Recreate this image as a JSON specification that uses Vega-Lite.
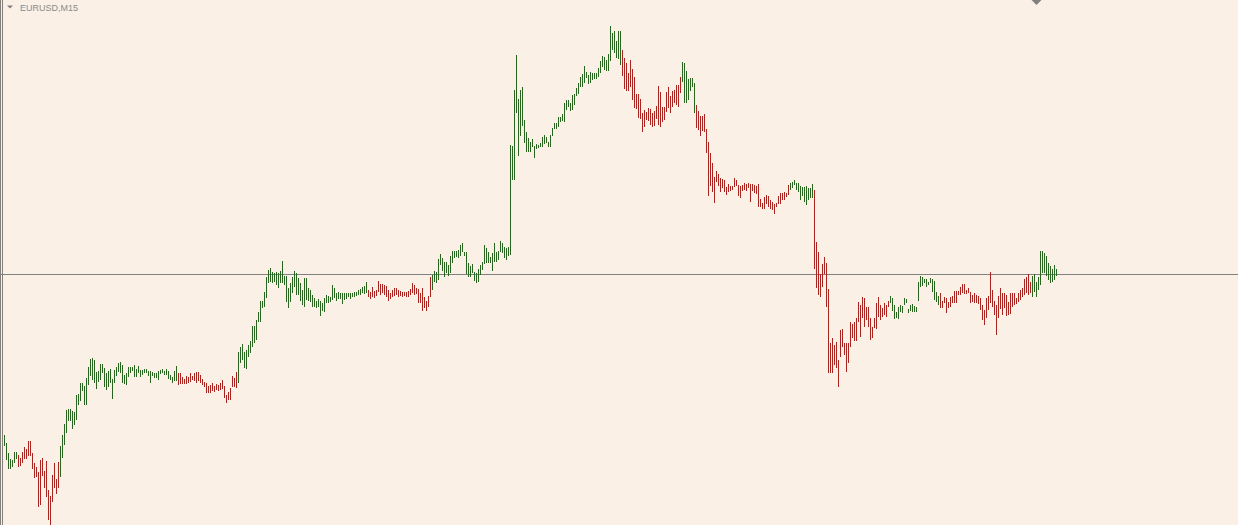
{
"$schema": "https://vega.github.io/schema/vega-lite/v6.json",
"width": 1238, "height": 525,
"autosize": {"type": "none"},
"padding": 0,
"background": "#faf0e6",
"config": {"view": {"stroke": null}},
"datasets": {
"bars": [
{"bar":0,"high":90,"low":79,"dir":"up"},{"bar":1,"high":82,"low":65,"dir":"up"},{"bar":2,"high":72,"low":56,"dir":"up"},{"bar":3,"high":66,"low":56,"dir":"up"},{"bar":4,"high":65,"low":58,"dir":"up"},{"bar":5,"high":73,"low":62,"dir":"up"},{"bar":6,"high":73,"low":66,"dir":"up"},
{"bar":7,"high":70,"low":58,"dir":"down"},{"bar":8,"high":67,"low":59,"dir":"down"},{"bar":9,"high":73,"low":62,"dir":"down"},{"bar":10,"high":78,"low":66,"dir":"down"},{"bar":11,"high":76,"low":66,"dir":"down"},{"bar":12,"high":84,"low":69,"dir":"down"},{"bar":13,"high":84,"low":69,"dir":"down"},{"bar":14,"high":72,"low":56,"dir":"down"},{"bar":15,"high":62,"low":47,"dir":"down"},{"bar":16,"high":58,"low":48,"dir":"down"},{"bar":17,"high":53,"low":18,"dir":"down"},{"bar":18,"high":65,"low":20,"dir":"down"},{"bar":19,"high":67,"low":49,"dir":"down"},{"bar":20,"high":54,"low":37,"dir":"down"},{"bar":21,"high":64,"low":28,"dir":"down"},{"bar":22,"high":35,"low":5,"dir":"down"},{"bar":23,"high":29,"low":0,"dir":"down"},{"bar":24,"high":50,"low":23,"dir":"down"},{"bar":25,"high":62,"low":37,"dir":"down"},{"bar":26,"high":46,"low":31,"dir":"down"},{"bar":27,"high":63,"low":37,"dir":"down"},
{"bar":28,"high":79,"low":48,"dir":"up"},{"bar":29,"high":90,"low":67,"dir":"up"},{"bar":30,"high":101,"low":80,"dir":"up"},{"bar":31,"high":115,"low":92,"dir":"up"},{"bar":32,"high":116,"low":104,"dir":"up"},{"bar":33,"high":116,"low":104,"dir":"up"},{"bar":34,"high":114,"low":96,"dir":"up"},{"bar":35,"high":113,"low":100,"dir":"up"},{"bar":36,"high":130,"low":105,"dir":"up"},{"bar":37,"high":131,"low":120,"dir":"up"},{"bar":38,"high":142,"low":124,"dir":"up"},{"bar":39,"high":142,"low":134,"dir":"up"},{"bar":40,"high":139,"low":120,"dir":"up"},{"bar":41,"high":147,"low":120,"dir":"up"},{"bar":42,"high":158,"low":140,"dir":"up"},{"bar":43,"high":166,"low":149,"dir":"up"},{"bar":44,"high":167,"low":145,"dir":"up"},{"bar":45,"high":165,"low":142,"dir":"up"},{"bar":46,"high":153,"low":136,"dir":"up"},{"bar":47,"high":154,"low":143,"dir":"up"},{"bar":48,"high":161,"low":145,"dir":"up"},{"bar":49,"high":161,"low":152,"dir":"up"},{"bar":50,"high":157,"low":138,"dir":"up"},{"bar":51,"high":152,"low":135,"dir":"up"},{"bar":52,"high":154,"low":138,"dir":"up"},{"bar":53,"high":156,"low":142,"dir":"up"},{"bar":54,"high":146,"low":126,"dir":"up"},{"bar":55,"high":155,"low":142,"dir":"up"},{"bar":56,"high":158,"low":149,"dir":"up"},{"bar":57,"high":162,"low":153,"dir":"up"},{"bar":58,"high":163,"low":152,"dir":"up"},{"bar":59,"high":160,"low":142,"dir":"up"},{"bar":60,"high":150,"low":141,"dir":"up"},{"bar":61,"high":152,"low":140,"dir":"up"},{"bar":62,"high":158,"low":148,"dir":"up"},{"bar":63,"high":158,"low":152,"dir":"up"},{"bar":64,"high":158,"low":154,"dir":"up"},{"bar":65,"high":160,"low":148,"dir":"up"},{"bar":66,"high":156,"low":148,"dir":"up"},{"bar":67,"high":159,"low":152,"dir":"up"},{"bar":68,"high":155,"low":148,"dir":"up"},{"bar":69,"high":155,"low":150,"dir":"up"},{"bar":70,"high":156,"low":152,"dir":"up"},{"bar":71,"high":156,"low":152,"dir":"up"},{"bar":72,"high":154,"low":149,"dir":"up"},{"bar":73,"high":154,"low":142,"dir":"up"},{"bar":74,"high":153,"low":149,"dir":"up"},{"bar":75,"high":152,"low":147,"dir":"up"},{"bar":76,"high":152,"low":147,"dir":"up"},{"bar":77,"high":154,"low":145,"dir":"up"},{"bar":78,"high":155,"low":151,"dir":"up"},{"bar":79,"high":156,"low":152,"dir":"up"},{"bar":80,"high":154,"low":150,"dir":"up"},{"bar":81,"high":156,"low":150,"dir":"up"},{"bar":82,"high":154,"low":146,"dir":"up"},{"bar":83,"high":150,"low":145,"dir":"up"},{"bar":84,"high":148,"low":142,"dir":"up"},{"bar":85,"high":154,"low":144,"dir":"up"},{"bar":86,"high":159,"low":144,"dir":"up"},
{"bar":87,"high":152,"low":140,"dir":"down"},{"bar":88,"high":152,"low":141,"dir":"down"},{"bar":89,"high":148,"low":141,"dir":"down"},{"bar":90,"high":146,"low":141,"dir":"down"},{"bar":91,"high":149,"low":141,"dir":"down"},{"bar":92,"high":148,"low":142,"dir":"down"},{"bar":93,"high":152,"low":143,"dir":"down"},{"bar":94,"high":149,"low":145,"dir":"down"},{"bar":95,"high":152,"low":144,"dir":"down"},{"bar":96,"high":153,"low":142,"dir":"down"},{"bar":97,"high":153,"low":144,"dir":"down"},{"bar":98,"high":150,"low":142,"dir":"down"},{"bar":99,"high":146,"low":140,"dir":"down"},{"bar":100,"high":143,"low":138,"dir":"down"},{"bar":101,"high":142,"low":132,"dir":"down"},{"bar":102,"high":139,"low":132,"dir":"down"},{"bar":103,"high":140,"low":132,"dir":"down"},{"bar":104,"high":142,"low":134,"dir":"down"},{"bar":105,"high":139,"low":133,"dir":"down"},{"bar":106,"high":141,"low":135,"dir":"down"},{"bar":107,"high":140,"low":134,"dir":"down"},{"bar":108,"high":142,"low":135,"dir":"down"},{"bar":109,"high":145,"low":136,"dir":"down"},{"bar":110,"high":139,"low":127,"dir":"down"},{"bar":111,"high":130,"low":122,"dir":"down"},{"bar":112,"high":133,"low":125,"dir":"down"},{"bar":113,"high":137,"low":125,"dir":"down"},{"bar":114,"high":149,"low":138,"dir":"down"},{"bar":115,"high":147,"low":138,"dir":"down"},{"bar":116,"high":153,"low":137,"dir":"down"},
{"bar":117,"high":173,"low":142,"dir":"up"},{"bar":118,"high":178,"low":162,"dir":"up"},{"bar":119,"high":181,"low":165,"dir":"up"},{"bar":120,"high":173,"low":157,"dir":"up"},{"bar":121,"high":175,"low":156,"dir":"up"},{"bar":122,"high":180,"low":168,"dir":"up"},{"bar":123,"high":184,"low":172,"dir":"up"},{"bar":124,"high":199,"low":178,"dir":"up"},{"bar":125,"high":199,"low":182,"dir":"up"},{"bar":126,"high":205,"low":185,"dir":"up"},{"bar":127,"high":213,"low":203,"dir":"up"},{"bar":128,"high":224,"low":203,"dir":"up"},{"bar":129,"high":224,"low":217,"dir":"up"},{"bar":130,"high":233,"low":218,"dir":"up"},{"bar":131,"high":248,"low":227,"dir":"up"},{"bar":132,"high":255,"low":242,"dir":"up"},{"bar":133,"high":257,"low":243,"dir":"up"},{"bar":134,"high":253,"low":242,"dir":"up"},{"bar":135,"high":252,"low":243,"dir":"up"},{"bar":136,"high":253,"low":240,"dir":"up"},{"bar":137,"high":252,"low":237,"dir":"up"},{"bar":138,"high":254,"low":242,"dir":"up"},{"bar":139,"high":264,"low":242,"dir":"up"},{"bar":140,"high":249,"low":240,"dir":"up"},{"bar":141,"high":249,"low":223,"dir":"up"},{"bar":142,"high":237,"low":217,"dir":"up"},{"bar":143,"high":242,"low":223,"dir":"up"},{"bar":144,"high":248,"low":232,"dir":"up"},{"bar":145,"high":254,"low":238,"dir":"up"},{"bar":146,"high":252,"low":230,"dir":"up"},{"bar":147,"high":247,"low":230,"dir":"up"},{"bar":148,"high":242,"low":224,"dir":"up"},{"bar":149,"high":235,"low":220,"dir":"up"},{"bar":150,"high":247,"low":218,"dir":"up"},{"bar":151,"high":247,"low":225,"dir":"up"},{"bar":152,"high":237,"low":224,"dir":"up"},{"bar":153,"high":235,"low":223,"dir":"up"},{"bar":154,"high":230,"low":218,"dir":"up"},{"bar":155,"high":227,"low":218,"dir":"up"},{"bar":156,"high":224,"low":217,"dir":"up"},{"bar":157,"high":226,"low":218,"dir":"up"},{"bar":158,"high":224,"low":209,"dir":"up"},{"bar":159,"high":222,"low":214,"dir":"up"},{"bar":160,"high":227,"low":213,"dir":"up"},{"bar":161,"high":230,"low":222,"dir":"up"},{"bar":162,"high":229,"low":222,"dir":"up"},{"bar":163,"high":228,"low":223,"dir":"up"},{"bar":164,"high":240,"low":225,"dir":"up"},{"bar":165,"high":237,"low":227,"dir":"up"},{"bar":166,"high":232,"low":224,"dir":"up"},{"bar":167,"high":233,"low":226,"dir":"up"},{"bar":168,"high":232,"low":226,"dir":"up"},{"bar":169,"high":232,"low":221,"dir":"up"},{"bar":170,"high":232,"low":225,"dir":"up"},{"bar":171,"high":232,"low":226,"dir":"up"},{"bar":172,"high":232,"low":228,"dir":"up"},{"bar":173,"high":232,"low":226,"dir":"up"},{"bar":174,"high":232,"low":228,"dir":"up"},{"bar":175,"high":233,"low":228,"dir":"up"},{"bar":176,"high":233,"low":229,"dir":"up"},{"bar":177,"high":235,"low":230,"dir":"up"},{"bar":178,"high":236,"low":230,"dir":"up"},{"bar":179,"high":238,"low":232,"dir":"up"},{"bar":180,"high":239,"low":231,"dir":"up"},{"bar":181,"high":243,"low":232,"dir":"up"},
{"bar":182,"high":235,"low":228,"dir":"down"},{"bar":183,"high":233,"low":226,"dir":"down"},{"bar":184,"high":238,"low":228,"dir":"down"},{"bar":185,"high":234,"low":227,"dir":"down"},{"bar":186,"high":235,"low":229,"dir":"down"},{"bar":187,"high":244,"low":233,"dir":"down"},{"bar":188,"high":241,"low":230,"dir":"down"},{"bar":189,"high":241,"low":232,"dir":"down"},{"bar":190,"high":240,"low":230,"dir":"down"},{"bar":191,"high":239,"low":228,"dir":"down"},{"bar":192,"high":235,"low":224,"dir":"down"},{"bar":193,"high":232,"low":226,"dir":"down"},{"bar":194,"high":235,"low":228,"dir":"down"},{"bar":195,"high":237,"low":229,"dir":"down"},{"bar":196,"high":237,"low":230,"dir":"down"},{"bar":197,"high":235,"low":228,"dir":"down"},{"bar":198,"high":234,"low":229,"dir":"down"},{"bar":199,"high":233,"low":228,"dir":"down"},{"bar":200,"high":233,"low":229,"dir":"down"},{"bar":201,"high":233,"low":228,"dir":"down"},{"bar":202,"high":234,"low":228,"dir":"down"},{"bar":203,"high":236,"low":230,"dir":"down"},{"bar":204,"high":242,"low":232,"dir":"down"},{"bar":205,"high":240,"low":230,"dir":"down"},{"bar":206,"high":237,"low":231,"dir":"down"},{"bar":207,"high":236,"low":222,"dir":"down"},{"bar":208,"high":232,"low":222,"dir":"down"},{"bar":209,"high":237,"low":214,"dir":"down"},{"bar":210,"high":228,"low":217,"dir":"down"},{"bar":211,"high":224,"low":214,"dir":"down"},{"bar":212,"high":229,"low":218,"dir":"down"},{"bar":213,"high":248,"low":228,"dir":"down"},
{"bar":214,"high":250,"low":235,"dir":"up"},{"bar":215,"high":254,"low":243,"dir":"up"},{"bar":216,"high":253,"low":242,"dir":"up"},{"bar":217,"high":266,"low":245,"dir":"up"},{"bar":218,"high":271,"low":260,"dir":"up"},{"bar":219,"high":267,"low":254,"dir":"up"},{"bar":220,"high":263,"low":248,"dir":"up"},{"bar":221,"high":263,"low":252,"dir":"up"},{"bar":222,"high":260,"low":249,"dir":"up"},{"bar":223,"high":269,"low":252,"dir":"up"},{"bar":224,"high":274,"low":262,"dir":"up"},{"bar":225,"high":274,"low":267,"dir":"up"},{"bar":226,"high":274,"low":268,"dir":"up"},{"bar":227,"high":275,"low":267,"dir":"up"},{"bar":228,"high":280,"low":269,"dir":"up"},{"bar":229,"high":282,"low":273,"dir":"up"},{"bar":230,"high":273,"low":269,"dir":"up"},{"bar":231,"high":273,"low":251,"dir":"up"},{"bar":232,"high":262,"low":248,"dir":"up"},{"bar":233,"high":259,"low":248,"dir":"up"},{"bar":234,"high":261,"low":252,"dir":"up"},{"bar":235,"high":253,"low":244,"dir":"up"},{"bar":236,"high":252,"low":242,"dir":"up"},{"bar":237,"high":256,"low":243,"dir":"up"},{"bar":238,"high":260,"low":250,"dir":"up"},{"bar":239,"high":263,"low":255,"dir":"up"},{"bar":240,"high":280,"low":261,"dir":"up"},{"bar":241,"high":277,"low":262,"dir":"up"},{"bar":242,"high":273,"low":262,"dir":"up"},{"bar":243,"high":268,"low":262,"dir":"up"},{"bar":244,"high":272,"low":254,"dir":"up"},{"bar":245,"high":282,"low":263,"dir":"up"},{"bar":246,"high":273,"low":263,"dir":"up"},{"bar":247,"high":274,"low":265,"dir":"up"},{"bar":248,"high":284,"low":273,"dir":"up"},{"bar":249,"high":282,"low":272,"dir":"up"},{"bar":250,"high":278,"low":267,"dir":"up"},{"bar":251,"high":277,"low":265,"dir":"up"},{"bar":252,"high":278,"low":269,"dir":"up"},{"bar":253,"high":380,"low":270,"dir":"up"},{"bar":254,"high":379,"low":345,"dir":"up"},{"bar":255,"high":435,"low":345,"dir":"up"},{"bar":256,"high":470,"low":412,"dir":"up"},{"bar":257,"high":426,"low":369,"dir":"up"},{"bar":258,"high":435,"low":389,"dir":"up"},{"bar":259,"high":438,"low":399,"dir":"up"},{"bar":260,"high":405,"low":382,"dir":"up"},{"bar":261,"high":393,"low":373,"dir":"up"},{"bar":262,"high":387,"low":373,"dir":"up"},{"bar":263,"high":383,"low":373,"dir":"up"},{"bar":264,"high":386,"low":378,"dir":"up"},{"bar":265,"high":379,"low":367,"dir":"up"},{"bar":266,"high":381,"low":376,"dir":"up"},{"bar":267,"high":380,"low":377,"dir":"up"},{"bar":268,"high":382,"low":378,"dir":"up"},{"bar":269,"high":388,"low":378,"dir":"up"},{"bar":270,"high":390,"low":381,"dir":"up"},{"bar":271,"high":388,"low":382,"dir":"up"},{"bar":272,"high":383,"low":378,"dir":"up"},{"bar":273,"high":390,"low":378,"dir":"up"},{"bar":274,"high":397,"low":389,"dir":"up"},{"bar":275,"high":402,"low":396,"dir":"up"},{"bar":276,"high":402,"low":396,"dir":"up"},{"bar":277,"high":408,"low":398,"dir":"up"},{"bar":278,"high":408,"low":403,"dir":"up"},{"bar":279,"high":411,"low":404,"dir":"up"},{"bar":280,"high":422,"low":403,"dir":"up"},{"bar":281,"high":425,"low":415,"dir":"up"},{"bar":282,"high":425,"low":418,"dir":"up"},{"bar":283,"high":422,"low":414,"dir":"up"},{"bar":284,"high":430,"low":415,"dir":"up"},{"bar":285,"high":431,"low":420,"dir":"up"},{"bar":286,"high":437,"low":429,"dir":"up"},{"bar":287,"high":442,"low":431,"dir":"up"},{"bar":288,"high":448,"low":438,"dir":"up"},{"bar":289,"high":451,"low":438,"dir":"up"},{"bar":290,"high":459,"low":442,"dir":"up"},{"bar":291,"high":453,"low":447,"dir":"up"},{"bar":292,"high":450,"low":441,"dir":"up"},{"bar":293,"high":453,"low":442,"dir":"up"},{"bar":294,"high":452,"low":445,"dir":"up"},{"bar":295,"high":452,"low":446,"dir":"up"},{"bar":296,"high":452,"low":446,"dir":"up"},{"bar":297,"high":457,"low":448,"dir":"up"},{"bar":298,"high":464,"low":452,"dir":"up"},{"bar":299,"high":469,"low":458,"dir":"up"},{"bar":300,"high":468,"low":455,"dir":"up"},{"bar":301,"high":465,"low":454,"dir":"up"},{"bar":302,"high":471,"low":454,"dir":"up"},{"bar":303,"high":499,"low":464,"dir":"up"},{"bar":304,"high":492,"low":475,"dir":"up"},{"bar":305,"high":494,"low":472,"dir":"up"},{"bar":306,"high":484,"low":467,"dir":"up"},{"bar":307,"high":494,"low":466,"dir":"up"},{"bar":308,"high":494,"low":460,"dir":"up"},
{"bar":309,"high":475,"low":449,"dir":"down"},{"bar":310,"high":467,"low":436,"dir":"down"},{"bar":311,"high":462,"low":434,"dir":"down"},{"bar":312,"high":452,"low":434,"dir":"down"},{"bar":313,"high":465,"low":438,"dir":"down"},{"bar":314,"high":456,"low":425,"dir":"down"},{"bar":315,"high":448,"low":417,"dir":"down"},{"bar":316,"high":431,"low":416,"dir":"down"},{"bar":317,"high":431,"low":407,"dir":"down"},{"bar":318,"high":426,"low":406,"dir":"down"},{"bar":319,"high":412,"low":393,"dir":"down"},{"bar":320,"high":415,"low":398,"dir":"down"},{"bar":321,"high":413,"low":405,"dir":"down"},{"bar":322,"high":417,"low":404,"dir":"down"},{"bar":323,"high":416,"low":400,"dir":"down"},{"bar":324,"high":412,"low":398,"dir":"down"},{"bar":325,"high":414,"low":399,"dir":"down"},{"bar":326,"high":419,"low":406,"dir":"down"},{"bar":327,"high":439,"low":400,"dir":"down"},{"bar":328,"high":433,"low":398,"dir":"down"},{"bar":329,"high":418,"low":403,"dir":"down"},{"bar":330,"high":418,"low":405,"dir":"down"},{"bar":331,"high":433,"low":413,"dir":"down"},{"bar":332,"high":438,"low":417,"dir":"down"},{"bar":333,"high":429,"low":412,"dir":"down"},{"bar":334,"high":434,"low":418,"dir":"down"},{"bar":335,"high":435,"low":422,"dir":"down"},{"bar":336,"high":440,"low":420,"dir":"down"},{"bar":337,"high":440,"low":418,"dir":"down"},{"bar":338,"high":448,"low":432,"dir":"down"},
{"bar":339,"high":463,"low":443,"dir":"up"},{"bar":340,"high":462,"low":422,"dir":"up"},{"bar":341,"high":454,"low":422,"dir":"up"},{"bar":342,"high":446,"low":425,"dir":"up"},{"bar":343,"high":447,"low":434,"dir":"up"},{"bar":344,"high":447,"low":438,"dir":"up"},{"bar":345,"high":442,"low":412,"dir":"up"},
{"bar":346,"high":420,"low":397,"dir":"down"},{"bar":347,"high":414,"low":395,"dir":"down"},{"bar":348,"high":409,"low":389,"dir":"down"},{"bar":349,"high":409,"low":394,"dir":"down"},{"bar":350,"high":411,"low":393,"dir":"down"},{"bar":351,"high":396,"low":372,"dir":"down"},{"bar":352,"high":383,"low":329,"dir":"down"},{"bar":353,"high":372,"low":339,"dir":"down"},{"bar":354,"high":362,"low":333,"dir":"down"},{"bar":355,"high":348,"low":322,"dir":"down"},{"bar":356,"high":354,"low":343,"dir":"down"},{"bar":357,"high":351,"low":339,"dir":"down"},{"bar":358,"high":347,"low":333,"dir":"down"},{"bar":359,"high":346,"low":337,"dir":"down"},{"bar":360,"high":345,"low":333,"dir":"down"},{"bar":361,"high":338,"low":330,"dir":"down"},{"bar":362,"high":341,"low":333,"dir":"down"},{"bar":363,"high":339,"low":334,"dir":"down"},{"bar":364,"high":339,"low":335,"dir":"down"},{"bar":365,"high":347,"low":338,"dir":"down"},{"bar":366,"high":345,"low":339,"dir":"down"},{"bar":367,"high":340,"low":329,"dir":"down"},{"bar":368,"high":339,"low":327,"dir":"down"},{"bar":369,"high":340,"low":334,"dir":"down"},{"bar":370,"high":342,"low":335,"dir":"down"},{"bar":371,"high":341,"low":334,"dir":"down"},{"bar":372,"high":342,"low":337,"dir":"down"},{"bar":373,"high":341,"low":323,"dir":"down"},{"bar":374,"high":341,"low":334,"dir":"down"},{"bar":375,"high":340,"low":332,"dir":"down"},{"bar":376,"high":339,"low":331,"dir":"down"},{"bar":377,"high":341,"low":318,"dir":"down"},{"bar":378,"high":326,"low":318,"dir":"down"},{"bar":379,"high":322,"low":316,"dir":"down"},{"bar":380,"high":328,"low":316,"dir":"down"},{"bar":381,"high":330,"low":321,"dir":"down"},{"bar":382,"high":329,"low":318,"dir":"down"},{"bar":383,"high":325,"low":316,"dir":"down"},{"bar":384,"high":323,"low":315,"dir":"down"},{"bar":385,"high":321,"low":311,"dir":"down"},{"bar":386,"high":322,"low":318,"dir":"down"},{"bar":387,"high":329,"low":321,"dir":"down"},{"bar":388,"high":332,"low":321,"dir":"down"},{"bar":389,"high":332,"low":325,"dir":"down"},{"bar":390,"high":333,"low":325,"dir":"down"},{"bar":391,"high":332,"low":328,"dir":"down"},{"bar":392,"high":340,"low":330,"dir":"down"},
{"bar":393,"high":342,"low":335,"dir":"up"},{"bar":394,"high":343,"low":337,"dir":"up"},{"bar":395,"high":345,"low":340,"dir":"up"},{"bar":396,"high":342,"low":335,"dir":"up"},{"bar":397,"high":342,"low":333,"dir":"up"},{"bar":398,"high":339,"low":325,"dir":"up"},{"bar":399,"high":338,"low":329,"dir":"up"},{"bar":400,"high":338,"low":323,"dir":"up"},{"bar":401,"high":339,"low":320,"dir":"up"},{"bar":402,"high":337,"low":325,"dir":"up"},{"bar":403,"high":337,"low":327,"dir":"up"},{"bar":404,"high":341,"low":327,"dir":"up"},
{"bar":405,"high":335,"low":256,"dir":"down"},{"bar":406,"high":283,"low":237,"dir":"down"},{"bar":407,"high":273,"low":230,"dir":"down"},{"bar":408,"high":251,"low":228,"dir":"down"},{"bar":409,"high":261,"low":238,"dir":"down"},{"bar":410,"high":268,"low":251,"dir":"down"},{"bar":411,"high":262,"low":218,"dir":"down"},{"bar":412,"high":236,"low":152,"dir":"down"},{"bar":413,"high":182,"low":152,"dir":"down"},{"bar":414,"high":187,"low":152,"dir":"down"},{"bar":415,"high":180,"low":160,"dir":"down"},{"bar":416,"high":183,"low":157,"dir":"down"},{"bar":417,"high":165,"low":138,"dir":"down"},{"bar":418,"high":195,"low":168,"dir":"down"},{"bar":419,"high":196,"low":178,"dir":"down"},{"bar":420,"high":182,"low":170,"dir":"down"},{"bar":421,"high":182,"low":153,"dir":"down"},{"bar":422,"high":182,"low":162,"dir":"down"},{"bar":423,"high":203,"low":178,"dir":"down"},{"bar":424,"high":201,"low":187,"dir":"down"},{"bar":425,"high":203,"low":184,"dir":"down"},{"bar":426,"high":207,"low":184,"dir":"down"},{"bar":427,"high":223,"low":203,"dir":"down"},{"bar":428,"high":220,"low":188,"dir":"down"},{"bar":429,"high":228,"low":207,"dir":"down"},{"bar":430,"high":227,"low":198,"dir":"down"},{"bar":431,"high":218,"low":205,"dir":"down"},{"bar":432,"high":218,"low":198,"dir":"down"},{"bar":433,"high":207,"low":185,"dir":"down"},{"bar":434,"high":198,"low":187,"dir":"down"},{"bar":435,"high":207,"low":197,"dir":"down"},{"bar":436,"high":222,"low":196,"dir":"down"},{"bar":437,"high":228,"low":208,"dir":"down"},{"bar":438,"high":220,"low":205,"dir":"down"},{"bar":439,"high":217,"low":208,"dir":"down"},{"bar":440,"high":222,"low":210,"dir":"down"},{"bar":441,"high":220,"low":208,"dir":"down"},{"bar":442,"high":224,"low":218,"dir":"down"},
{"bar":443,"high":229,"low":222,"dir":"up"},{"bar":444,"high":227,"low":214,"dir":"up"},{"bar":445,"high":220,"low":206,"dir":"up"},{"bar":446,"high":213,"low":207,"dir":"up"},{"bar":447,"high":218,"low":206,"dir":"up"},{"bar":448,"high":220,"low":213,"dir":"up"},{"bar":449,"high":219,"low":212,"dir":"up"},{"bar":450,"high":227,"low":220,"dir":"up"},{"bar":451,"high":226,"low":222,"dir":"up"},{"bar":452,"high":216,"low":212,"dir":"up"},{"bar":453,"high":220,"low":214,"dir":"up"},{"bar":454,"high":221,"low":213,"dir":"up"},{"bar":455,"high":219,"low":213,"dir":"up"},{"bar":456,"high":218,"low":213,"dir":"up"},{"bar":457,"high":243,"low":224,"dir":"up"},{"bar":458,"high":249,"low":238,"dir":"up"},{"bar":459,"high":248,"low":239,"dir":"up"},{"bar":460,"high":246,"low":242,"dir":"up"},{"bar":461,"high":246,"low":238,"dir":"up"},{"bar":462,"high":243,"low":240,"dir":"up"},{"bar":463,"high":247,"low":242,"dir":"up"},{"bar":464,"high":246,"low":233,"dir":"up"},{"bar":465,"high":244,"low":225,"dir":"up"},{"bar":466,"high":233,"low":223,"dir":"up"},{"bar":467,"high":229,"low":220,"dir":"up"},
{"bar":468,"high":232,"low":217,"dir":"down"},{"bar":469,"high":224,"low":217,"dir":"down"},{"bar":470,"high":228,"low":222,"dir":"down"},{"bar":471,"high":227,"low":212,"dir":"down"},{"bar":472,"high":223,"low":217,"dir":"down"},{"bar":473,"high":228,"low":218,"dir":"down"},{"bar":474,"high":229,"low":222,"dir":"down"},{"bar":475,"high":234,"low":222,"dir":"down"},{"bar":476,"high":234,"low":222,"dir":"down"},{"bar":477,"high":234,"low":230,"dir":"down"},{"bar":478,"high":238,"low":230,"dir":"down"},{"bar":479,"high":241,"low":232,"dir":"down"},{"bar":480,"high":241,"low":231,"dir":"down"},{"bar":481,"high":235,"low":231,"dir":"down"},{"bar":482,"high":237,"low":232,"dir":"down"},{"bar":483,"high":233,"low":222,"dir":"down"},{"bar":484,"high":230,"low":223,"dir":"down"},{"bar":485,"high":232,"low":222,"dir":"down"},{"bar":486,"high":230,"low":222,"dir":"down"},{"bar":487,"high":229,"low":221,"dir":"down"},{"bar":488,"high":227,"low":215,"dir":"down"},{"bar":489,"high":220,"low":205,"dir":"down"},{"bar":490,"high":215,"low":200,"dir":"down"},{"bar":491,"high":227,"low":207,"dir":"down"},{"bar":492,"high":229,"low":215,"dir":"down"},{"bar":493,"high":253,"low":222,"dir":"down"},{"bar":494,"high":235,"low":218,"dir":"down"},{"bar":495,"high":224,"low":210,"dir":"down"},{"bar":496,"high":220,"low":190,"dir":"down"},{"bar":497,"high":229,"low":207,"dir":"down"},{"bar":498,"high":237,"low":216,"dir":"down"},{"bar":499,"high":232,"low":210,"dir":"down"},{"bar":500,"high":232,"low":217,"dir":"down"},{"bar":501,"high":230,"low":209,"dir":"down"},{"bar":502,"high":223,"low":210,"dir":"down"},{"bar":503,"high":232,"low":211,"dir":"down"},{"bar":504,"high":232,"low":218,"dir":"down"},{"bar":505,"high":232,"low":220,"dir":"down"},{"bar":506,"high":227,"low":221,"dir":"down"},{"bar":507,"high":232,"low":223,"dir":"down"},{"bar":508,"high":235,"low":225,"dir":"down"},{"bar":509,"high":237,"low":228,"dir":"down"},{"bar":510,"high":246,"low":230,"dir":"down"},{"bar":511,"high":248,"low":232,"dir":"down"},{"bar":512,"high":251,"low":230,"dir":"down"},{"bar":513,"high":243,"low":232,"dir":"down"},
{"bar":514,"high":249,"low":228,"dir":"up"},{"bar":515,"high":251,"low":233,"dir":"up"},{"bar":516,"high":243,"low":228,"dir":"up"},{"bar":517,"high":248,"low":235,"dir":"up"},{"bar":518,"high":274,"low":240,"dir":"up"},{"bar":519,"high":274,"low":252,"dir":"up"},{"bar":520,"high":272,"low":252,"dir":"up"},{"bar":521,"high":269,"low":249,"dir":"up"},{"bar":522,"high":262,"low":245,"dir":"up"},{"bar":523,"high":259,"low":242,"dir":"up"},{"bar":524,"high":256,"low":243,"dir":"up"},{"bar":525,"high":260,"low":245,"dir":"up"},{"bar":526,"high":256,"low":249,"dir":"up"}
],
"frame": [{"bar": -2}, {"bar": -1}],
"bid": [{"price": 250.5}]
},
"layer": [
{
"data": {"name": "frame"},
"mark": {"type": "rule", "color": "#7f7f7f", "strokeWidth": 1, "opacity": 1},
"encoding": {
"x": {"field": "bar", "type": "quantitative", "scale": {"domain": [-2.25, 616.75], "nice": false, "zero": false}, "axis": null}
}
},
{
"data": {"name": "bid"},
"mark": {"type": "rule", "color": "#808080", "strokeWidth": 1, "opacity": 1},
"encoding": {
"y": {"field": "price", "type": "quantitative", "scale": {"domain": [0, 525], "nice": false, "zero": false}, "axis": null}
}
},
{
"data": {"name": "bars"},
"mark": {"type": "rule", "strokeWidth": 1, "opacity": 1},
"encoding": {
"x": {"field": "bar", "type": "quantitative", "scale": {"domain": [-2.25, 616.75], "nice": false, "zero": false}, "axis": null},
"y": {"field": "low", "type": "quantitative", "scale": {"domain": [0, 525], "nice": false, "zero": false}, "axis": null},
"y2": {"field": "high"},
"color": {"field": "dir", "type": "nominal", "scale": {"domain": ["up", "down"], "range": ["#008000", "#ff0000"]}, "legend": null}
}
},
{
"data": {"values": [{}]},
"mark": {"type": "text", "align": "left", "baseline": "alphabetic", "font": "Liberation Sans", "fontSize": 9, "color": "#8a8a8a"},
"encoding": {
"x": {"datum": 7.75},
"y": {"datum": 514.5},
"text": {"value": "EURUSD,M15"}
}
},
{
"data": {"values": [{}]},
"mark": {"type": "point", "shape": "M-1,-0.5L1,-0.5L0,0.5Z", "size": 36, "filled": true, "color": "#808080", "opacity": 1},
"encoding": {
"x": {"datum": 2.75},
"y": {"datum": 518}
}
},
{
"data": {"values": [{}]},
"mark": {"type": "point", "shape": "diamond", "size": 100, "filled": true, "color": "#808080", "opacity": 1},
"encoding": {
"x": {"datum": 516},
"y": {"datum": 525}
}
}
]
}
